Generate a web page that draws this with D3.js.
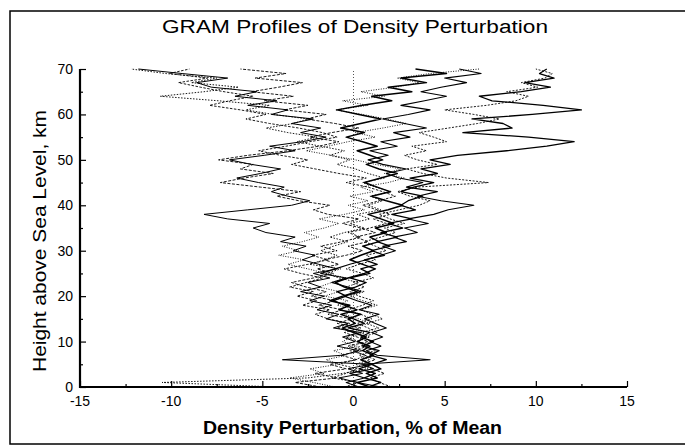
<!DOCTYPE html>
<html><head><meta charset="utf-8">
<script src="https://cdn.jsdelivr.net/npm/d3@7"></script>
<style>body{margin:0;background:#fff}svg{display:block}text{font-family:Arial,"Liberation Sans",sans-serif;fill:#000}</style>
</head><body><svg id="c" width="685" height="447"></svg>
<script>
const title = "GRAM Profiles of Density Perturbation";
const xTitle = "Density Perturbation, % of Mean";
const yTitle = "Height above Sea Level, km";
const xTicks = [-15, -10, -5, 0, 5, 10, 15];
const yTicks = [0, 10, 20, 30, 40, 50, 60, 70];
// heights 0..70 km, 1 km step
const heights = d3.range(0, 71);
const p1 = [0.8,1.5,0.6,1.2,0.3,1.0,1.8,0.9,1.4,0.5,1.1, 0.4,0.9,-0.3,0.6,0.0,-0.7,0.2,-0.5,-1.1,-0.4, -0.9,0.1,0.7,-0.2,0.9,0.4,1.3,0.6,1.7,1.0, 2.0,1.3,2.4,1.5,2.7,1.9,3.2,2.1,3.4,2.6, 3.0,3.8,2.6,3.3,4.4,3.1,4.6,3.7,5.3,4.2, 5.7,8.4,10.6,12.1,9.6,6.0,8.7,8.2,6.5,9.8, 12.5,10.4,7.6,6.9,9.2,10.8,9.4,11.0,10.2,10.6];
const p2 = [-0.5,0.3,-1.2,-0.4,0.2,-0.8,0.1,0.7,-0.2,0.4,1.0, 0.5,1.3,0.8,0.2,1.0,0.4,-0.3,0.5,1.1,0.3, -0.2,0.6,0.0,1.1,0.5,-0.4,0.3,1.2,0.7,1.8, 1.2,0.6,1.5,2.3,1.7,2.8,2.0,1.4,2.5,3.6, 4.2,3.1,2.4,3.5,7.4,5.1,3.8,2.9,4.6,3.5, 2.8,4.0,3.2,5.1,4.4,3.6,5.2,6.8,8.0,6.6, 5.0,7.3,8.9,9.6,8.4,10.1,9.2,10.5,10.9,10.0];
const p3 = [1.5,0.2,-0.8,0.5,-0.3,0.9,-3.9,-0.6,0.3,-0.9,0.1, -0.6,0.4,-1.1,-0.3,-1.5,-0.8,-2.0,-1.2,-2.4,-1.6, -2.9,-1.8,-2.5,-1.3,-2.2,-0.9,-1.9,-2.8,-2.1,-3.3, -2.6,-4.0,-3.2,-4.8,-5.5,-4.6,-6.9,-8.2,-5.8,-3.4, -2.4,-3.6,-4.5,-3.8,-5.2,-6.4,-5.1,-4.0,-5.6,-6.8, -4.9,-3.2,-4.6,-2.8,-1.5,-2.9,-1.8,-3.4,-2.2,-4.5, -3.6,-5.8,-4.2,-6.5,-5.3,-7.8,-8.6,-6.9,-9.4,-11.8];
const p4 = [-1.8,-3.2,-0.9,-2.1,-0.4,-1.3,0.2,-0.7,0.5,-0.3,0.8, 0.2,-0.5,0.4,-0.9,-0.1,-1.4,-0.6,-1.9,-1.0,-2.3, -1.5,-2.6,-3.4,-2.2,-1.1,-2.0,-0.8,-1.6,-0.4,0.5, -0.3,0.8,0.1,1.2,0.4,-0.6,0.3,-1.4,-2.2,-1.3, -3.0,-4.2,-2.9,-5.1,-7.3,-6.0,-4.4,-6.2,-5.5,-7.4, -5.8,-3.6,-1.9,-0.8,-2.4,-1.2,0.3,-1.0,-2.6,-1.5, -3.8,-2.5,-4.9,-3.3,-5.6,-4.1,-2.8,-5.4,-3.7,-6.2];
const p5 = [-4.2,-10.5,-2.5,-0.6,0.8,0.1,0.9,0.3,1.2,0.6,0.2, 0.9,0.4,1.4,0.7,1.6,1.0,0.4,1.3,0.5,-0.2, 0.6,-0.4,0.3,-0.8,-1.5,-0.7,-2.4,-1.6,-0.9,-1.8, -1.1,-0.3,-1.3,-0.5,0.6,-0.2,0.9,0.2,1.5,0.8, 1.6,0.9,2.1,1.2,0.5,1.7,0.8,0.1,-0.9,-0.2, -1.3,-0.5,-1.8,-3.1,-2.0,-3.6,-4.8,-3.3,-2.5,-4.4, -5.9,-4.6,-7.4,-10.6,-8.2,-6.3,-8.9,-7.5,-10.3,-12.2];
const p6 = [0.3,-0.4,0.6,-0.2,1.1,0.5,4.2,1.3,0.7,1.5,0.9, 1.6,1.0,1.8,1.2,0.6,1.4,0.3,1.0,0.2,-0.5, 0.4,-0.3,-1.2,-0.4,-1.8,-1.0,-0.2,0.7,1.5,2.3, 1.6,2.9,2.2,3.5,2.8,4.1,3.0,4.4,5.2,6.6, 4.8,3.5,4.6,2.9,3.8,2.5,1.8,2.9,1.6,0.8, 1.9,0.9,2.4,1.5,3.1,2.2,4.0,2.8,1.6,3.0, 4.2,2.6,3.9,5.1,3.7,4.8,6.2,5.0,7.0,5.8];
const p7 = [2.1,1.4,0.9,1.7,1.0,0.4,1.2,0.6,0.0,0.8,0.3, -0.4,0.2,-0.9,-0.2,-1.4,-2.1,-1.3,-2.8,-2.0,-3.1, -2.2,-3.5,-2.6,-1.7,-2.9,-3.8,-2.5,-1.4,-2.3,-0.9, -1.8,-0.6,0.4,-0.3,0.9,1.8,1.1,2.0,1.3,0.5, 1.4,2.3,1.6,0.8,-0.4,0.7,-0.8,-2.1,-3.4,-2.5, -4.0,-5.2,-3.7,-2.4,-0.9,-1.7,-3.0,-4.6,-5.9,-4.8, -6.2,-7.9,-6.8,-5.5,-7.1,-8.4,-9.6,-8.0,-10.1,-9.0];
const p8 = [0.9,0.2,1.3,0.7,1.5,1.0,0.4,1.1,0.5,0.9,0.2, 0.7,0.0,-0.6,0.1,-0.3,0.4,-0.8,-0.2,-1.3,-0.6, 0.2,-0.5,-1.0,-0.3,0.6,1.2,0.5,-0.2,0.4,1.1, 0.5,1.4,0.9,1.8,1.2,2.2,1.5,0.8,1.9,2.7, 1.8,1.0,2.0,1.3,0.6,1.5,2.4,1.4,0.7,1.6, 0.9,0.2,1.3,0.5,-0.4,0.6,-0.7,0.4,1.5,0.3, -0.9,0.5,2.1,1.0,3.2,1.9,4.0,2.6,5.1,3.4];
const p9 = [-1.0,-2.2,-3.5,-1.6,-2.4,-0.8,-1.5,-0.4,-1.1,0.2,-0.6, -0.1,0.6,-0.2,0.9,0.3,-0.5,0.2,-0.9,-0.3,-1.6, -0.8,-1.9,-1.2,-0.4,-1.5,-2.5,-3.6,-2.7,-4.1,-3.0, -3.9,-2.8,-1.9,-2.7,-1.6,-0.8,-1.9,-0.5,0.6,-0.3, 0.8,-0.2,1.1,0.4,1.9,2.8,1.7,2.6,1.2,0.1, -1.2,-2.6,-1.4,-0.3,1.2,0.1,1.6,2.9,1.8,0.5, -1.0,0.8,-0.6,1.7,0.4,2.3,3.6,2.4,4.2,6.9];
const profiles = [p1, p2, p3, p4, p5, p6, p7, p8, p9];

const svg = d3.select("#c");
const x = d3.scaleLinear().domain([-15, 15]).range([80, 627]);
const y = d3.scaleLinear().domain([0, 70]).range([387, 69]);

// outer frame
svg.append("rect").attr("x", 10).attr("y", 11).attr("width", 690).attr("height", 433)
  .attr("fill", "none").attr("stroke", "#000").attr("stroke-width", 1.5);

// zero reference line
svg.append("line").attr("x1", x(0)).attr("x2", x(0)).attr("y1", y(0)).attr("y2", y(70))
  .attr("stroke", "#555").attr("stroke-width", 1).attr("stroke-dasharray", "1,2");

const styles = [
  {w: 1.3, d: null}, {w: 0.9, d: "2,1.5"}, {w: 1.0, d: null}, {w: 0.9, d: "3,1.5"},
  {w: 0.9, d: "1.5,1.5"}, {w: 1.1, d: null}, {w: 0.9, d: "2.5,1.5"}, {w: 1.5, d: null}, {w: 0.9, d: "1,1.5"}
];
const line = d3.line().x(d => x(d[0])).y(d => y(d[1]));
profiles.forEach((p, i) => {
  svg.append("path").datum(p.map((v, k) => [v, heights[k]]))
    .attr("d", line).attr("fill", "none").attr("stroke", "#000")
    .attr("stroke-width", styles[i].w)
    .attr("stroke-dasharray", styles[i].d)
    .attr("stroke-linejoin", "round");
});

// axes
const gx = svg.append("g").attr("transform", `translate(0,${y(0)})`);
gx.call(d3.axisTop(x).tickValues(d3.range(-15, 15.1, 2.5)).tickSize(5).tickFormat(""))
  .call(g => g.select(".domain").remove());
gx.selectAll(".tick line").attr("y2", d => (d % 5 === 0 ? -6 : -3)).attr("stroke-width", 1.2);
const gy = svg.append("g").attr("transform", `translate(${x(-15)},0)`);
gy.call(d3.axisRight(y).tickValues(d3.range(0, 70.1, 5)).tickSize(5).tickFormat(""))
  .call(g => g.select(".domain").remove());
gy.selectAll(".tick line").attr("x2", d => (d % 10 === 0 ? 6 : 3)).attr("stroke-width", 1.2);

svg.append("line").attr("x1", x(-15)).attr("x2", x(15)).attr("y1", y(0)).attr("y2", y(0))
  .attr("stroke", "#000").attr("stroke-width", 2.2);
svg.append("line").attr("x1", x(-15)).attr("x2", x(-15)).attr("y1", y(0) + 1).attr("y2", y(70))
  .attr("stroke", "#000").attr("stroke-width", 2.2);

// tick labels
svg.append("g").selectAll("text").data(xTicks).join("text")
  .attr("x", d => x(d)).attr("y", 406).attr("text-anchor", "middle")
  .attr("font-size", 14).text(d => d);
svg.append("g").selectAll("text").data(yTicks).join("text")
  .attr("x", 73).attr("y", d => y(d) + 5).attr("text-anchor", "end")
  .attr("font-size", 14).text(d => d);

// titles
svg.append("text").attr("x", 162).attr("y", 33)
  .attr("font-size", 18).attr("textLength", 386).attr("lengthAdjust", "spacingAndGlyphs").text(title);
svg.append("text").attr("x", 203).attr("y", 434)
  .attr("font-size", 18).attr("font-weight", "bold")
  .attr("textLength", 299).attr("lengthAdjust", "spacingAndGlyphs").text(xTitle);
svg.append("text").attr("transform", "translate(46,372) rotate(-90)")
  .attr("font-size", 18).attr("textLength", 262).attr("lengthAdjust", "spacingAndGlyphs").text(yTitle);
</script></body></html>
